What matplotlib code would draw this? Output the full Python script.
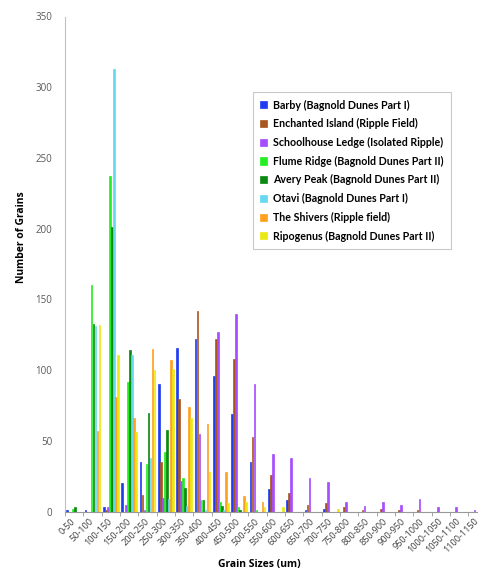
import matplotlib
matplotlib.use("Agg")
import matplotlib.pyplot as plt
import numpy as np

categories = ["0-50", "50-100", "100-150", "150-200", "200-250", "250-300", "300-350",
              "350-400", "400-450", "450-500", "500-550", "550-600", "600-650", "650-700",
              "700-750", "750-800", "800-850", "850-900", "900-950", "950-1000",
              "1000-1050", "1050-1100", "1100-1150"]

barby       = [1, 1, 3, 20, 35, 90, 116, 122, 96, 69, 35, 16, 8, 1, 2, 0, 0, 0, 0, 0, 0, 0, 0]
enchanted   = [0, 0, 1, 0, 12, 35, 80, 142, 122, 108, 53, 26, 13, 5, 6, 3, 1, 2, 1, 1, 0, 0, 0]
schoolhouse = [0, 0, 3, 5, 1, 10, 22, 55, 127, 140, 90, 41, 38, 24, 21, 7, 4, 7, 5, 9, 3, 3, 1]
flume       = [2, 160, 237, 92, 34, 42, 24, 8, 7, 3, 1, 0, 0, 0, 0, 0, 0, 0, 0, 0, 0, 0, 0]
avery       = [3, 133, 201, 114, 70, 58, 17, 8, 4, 1, 0, 0, 0, 0, 0, 0, 0, 0, 0, 0, 0, 0, 0]
otavi       = [0, 131, 313, 111, 38, 9, 4, 1, 1, 0, 0, 0, 0, 0, 0, 0, 0, 0, 0, 0, 0, 0, 0]
shivers     = [0, 57, 81, 66, 115, 107, 74, 62, 28, 11, 7, 0, 0, 0, 0, 0, 0, 0, 0, 0, 0, 0, 0]
ripogenus   = [0, 132, 111, 56, 100, 101, 66, 28, 6, 7, 3, 3, 0, 0, 2, 0, 0, 0, 0, 0, 0, 0, 0]

series_names = ["Barby (Bagnold Dunes Part I)", "Enchanted Island (Ripple Field)",
                "Schoolhouse Ledge (Isolated Ripple)", "Flume Ridge (Bagnold Dunes Part II)",
                "Avery Peak (Bagnold Dunes Part II)", "Otavi (Bagnold Dunes Part I)",
                "The Shivers (Ripple field)", "Ripogenus (Bagnold Dunes Part II)"]
series_values = [barby, enchanted, schoolhouse, flume, avery, otavi, shivers, ripogenus]
colors = ["#1f3cf0", "#a8561e", "#a64dff", "#22ee22", "#0a8a12", "#66d8f2", "#ffa020", "#eaea10"]

fig = plt.figure(figsize=(4.78, 5.75), dpi=100)
ax = fig.add_axes([65/478, 1-511.7/575, 421.7/478, (511.7-16.5)/575])

n = len(series_values)
w = 0.108
x = np.arange(len(categories))
for i, (name, vals, c) in enumerate(zip(series_names, series_values, colors)):
    ax.bar(x + (i - (n-1)/2) * w, vals, width=w*0.85, color=c, label=name,
           edgecolor=c, linewidth=0.5)

ax.set_xlim(-0.5, len(categories) - 0.5)
ax.set_ylim(0, 350)
ax.set_yticks(range(0, 351, 50))
ax.set_xticks(x)
ax.set_xticklabels(categories, rotation=45, ha="right", va="center",
                   rotation_mode="anchor", fontsize=6.6, color="#404040",
                   family="Open Sans")
ax.set_xticks(np.arange(-0.5, len(categories), 1), minor=True)
ax.tick_params(axis="x", which="major", length=0, pad=6)
ax.tick_params(axis="x", which="minor", length=3, color="#999999", direction="out")
ax.tick_params(axis="y", length=0, pad=9, labelsize=7, labelcolor="#595959")
for lab in ax.get_yticklabels():
    lab.set_family("Open Sans")

for s in ["top", "right"]:
    ax.spines[s].set_visible(False)
ax.spines["left"].set_color("#c0c0c0")
ax.spines["bottom"].set_color("#999999")

fig.text(22/478, 1-237/575, "Number of Grains", rotation=90, ha="center", va="center",
         fontsize=7.5, fontweight="bold", family="Open Sans")
fig.text(259/478, 1-565/575, "Grain Sizes (um)", ha="center", va="center",
         fontsize=7.5, fontweight="bold", family="Open Sans")

leg = fig.legend(loc="upper left", bbox_to_anchor=(253/478, 1-92/575),
                 frameon=True, fancybox=False, edgecolor="#bbbbbb",
                 prop={"family": "Lato", "weight": "bold", "size": 7.7},
                 handlelength=0.65, handleheight=0.65, handletextpad=0.5,
                 labelspacing=0.72, borderpad=0.7, borderaxespad=0)
leg.get_frame().set_linewidth(0.8)

fig.savefig("out.png", dpi=100)
